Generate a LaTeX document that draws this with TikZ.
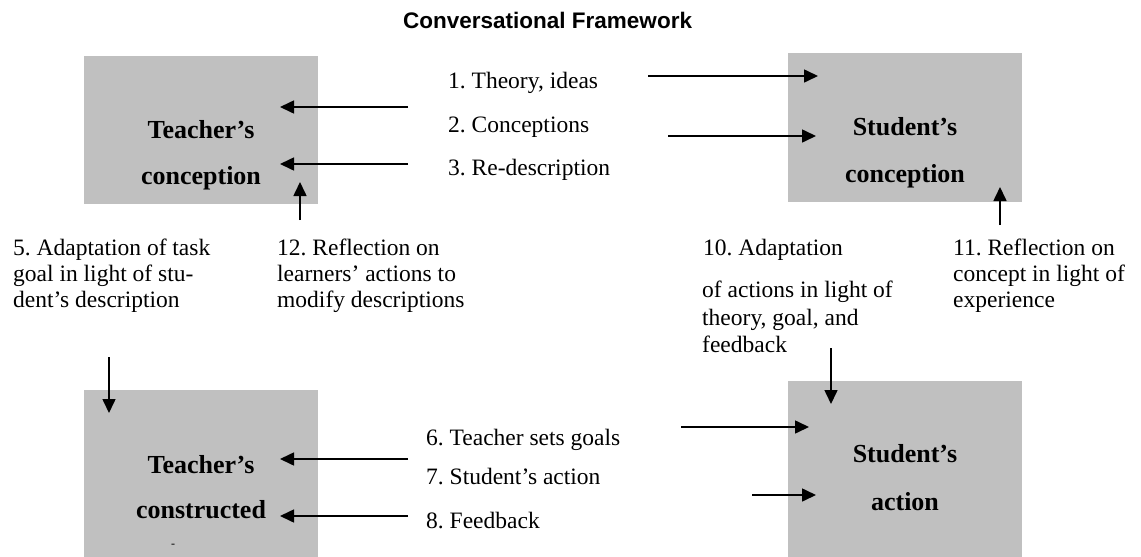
\documentclass[tikz,border=0pt]{standalone}
\usepackage{fontspec}
\setmainfont{Liberation Serif}
\newfontfamily\titlefont{Liberation Sans}
\usetikzlibrary{arrows.meta}
\definecolor{boxgray}{RGB}{192,192,192}
\frenchspacing
\begin{document}
\begin{tikzpicture}[x=1pt,y=-1pt,
  concept/.style={fill=boxgray, draw=none, inner sep=0pt, anchor=north west},
  lbl/.style={anchor=base west, inner sep=0pt, font=\fontsize{23.5}{27}\selectfont},
  boxlbl/.style={anchor=base, inner sep=0pt, font=\fontsize{26}{30}\selectfont\bfseries},
  flow/.style={line width=1.6pt, -{Triangle[length=14pt,width=13pt]}}]
\useasboundingbox (0,0) rectangle (1141,557);
\fill[white] (0,0) rectangle (1141,557);

% title
\node[anchor=base west, inner sep=0pt, font=\titlefont\bfseries\fontsize{22.5}{26}\selectfont] (title) at (403,28) {Conversational Framework};

% boxes
\node[concept, minimum width=234pt, minimum height=148pt] (tc) at (84,56) {};
\node[concept, minimum width=234pt, minimum height=149pt] (sc) at (788,53) {};
\node[concept, minimum width=234pt, minimum height=167pt] (tk) at (84,390) {};
\node[concept, minimum width=234pt, minimum height=176pt] (sa) at (788,381) {};

% box labels
\node[boxlbl] (tc1) at (201,138) {Teacher’s};
\node[boxlbl] (tc2) at (201,184) {conception};
\node[boxlbl] (sc1) at (905,135) {Student’s};
\node[boxlbl] (sc2) at (905,182) {conception};
\node[boxlbl] (tk1) at (201,473) {Teacher’s};
\node[boxlbl] (tk2) at (201,518) {constructed};
\node[anchor=base, inner sep=0pt, font=\fontsize{12}{14}\selectfont] (tk3) at (173,547) {-};
\node[boxlbl] (sa1) at (905,462) {Student’s};
\node[boxlbl] (sa2) at (905,510) {action};

% upper labels
\node[lbl] (l1) at (448,88) {1. Theory, ideas};
\node[lbl] (l2) at (448,132) {2. Conceptions};
\node[lbl] (l3) at (448,175) {3. Re-description};

% middle labels
\node[lbl] (l5a) at (13,255) {5. Adaptation of task};
\node[lbl] (l5b) at (13,281) {goal in light of stu-};
\node[lbl] (l5c) at (13,307) {dent’s description};
\node[lbl] (l12a) at (277,255) {12. Reflection on};
\node[lbl] (l12b) at (277,281) {learners’ actions to};
\node[lbl] (l12c) at (277,307) {modify descriptions};
\node[lbl] (l10a) at (703,255) {10. Adaptation};
\node[lbl] (l10b) at (702,297) {of actions in light of};
\node[lbl] (l10c) at (702,325) {theory, goal, and};
\node[lbl] (l10d) at (702,352) {feedback};
\node[lbl] (l11a) at (953,255) {11. Reflection on};
\node[lbl] (l11b) at (953,281) {concept in light of};
\node[lbl] (l11c) at (953,307) {experience};

% lower labels
\node[lbl] (l6) at (426,445) {6. Teacher sets goals};
\node[lbl] (l7) at (426,484) {7. Student’s action};
\node[lbl] (l8) at (426,528) {8. Feedback};

% arrow end points
\coordinate (a1s) at (648,76);  \coordinate (a1e) at (818,76);
\coordinate (a2s) at (668,136); \coordinate (a2e) at (816,136);
\coordinate (b1s) at (408,107); \coordinate (b1e) at (280,107);
\coordinate (b2s) at (408,164); \coordinate (b2e) at (280,164);
\coordinate (u12s) at (300,220); \coordinate (u12e) at (300,182);
\coordinate (u11s) at (1000,225); \coordinate (u11e) at (1000,187);
\coordinate (d5s) at (109,357); \coordinate (d5e) at (109,413);
\coordinate (d10s) at (831,348); \coordinate (d10e) at (831,404);
\coordinate (c1s) at (408,459); \coordinate (c1e) at (280,459);
\coordinate (c2s) at (408,516); \coordinate (c2e) at (280,516);
\coordinate (e1s) at (681,427); \coordinate (e1e) at (809,427);
\coordinate (e2s) at (752,495); \coordinate (e2e) at (816,495);

\foreach \p in {a1,a2,b1,b2,u12,u11,d5,d10,c1,c2,e1,e2}
  \draw[flow] (\p s) -- (\p e);
\end{tikzpicture}
\end{document}
